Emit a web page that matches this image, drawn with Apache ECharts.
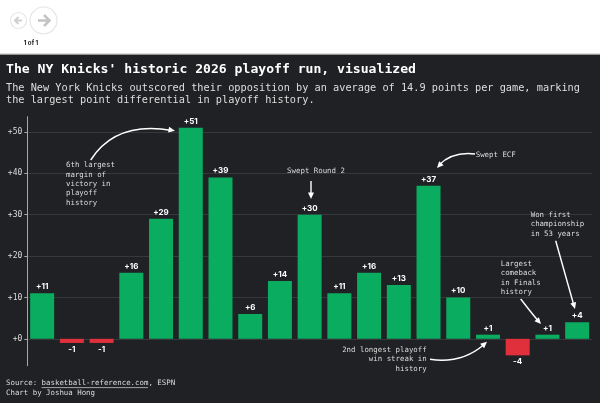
<!DOCTYPE html>
<html><head><meta charset="utf-8">
<style>html,body{margin:0;padding:0;background:#fff}#c{width:600px;height:403px}</style>
<script src="https://cdn.jsdelivr.net/npm/echarts@6/dist/echarts.min.js"></script>
</head><body><div id="c"></div>
<script>
const games = ['G1','G2','G3','G4','G5','G6','G7','G8','G9','G10','G11','G12','G13','G14','G15','G16','G17','G18','G19'];
const margins = [11,-1,-1,16,29,51,39,6,14,30,11,16,13,37,10,1,-4,1,4];
const tickValues = [0,10,20,30,40,50];
const titleText = "The NY Knicks' historic 2026 playoff run, visualized";
const subtitleText = "The New York Knicks outscored their opposition by an average of 14.9 points per game, marking\nthe largest point differential in playoff history.";
const notes = [
  {t:'6th largest\nmargin of\nvictory in\nplayoff\nhistory',x:66,y:160.6,a:'left'},
  {t:'Swept Round 2',x:316,y:166.5,a:'center'},
  {t:'Swept ECF',x:475.7,y:150.5,a:'left'},
  {t:'Won first\nchampionship\nin 53 years',x:530.7,y:210.5,a:'left'},
  {t:'Largest\ncomeback\nin Finals\nhistory',x:500.7,y:259.5,a:'left'},
  {t:'2nd longest playoff\nwin streak in\nhistory',x:426.7,y:345.5,a:'right'}
];
const arrows = [
  {p:[[90.7,160],[108,133],[135,124],[172,130.5]],tip:[175,130.7]},
  {p:[[311,181],[311,186],[311,192],[311,195]],tip:[311,199]},
  {p:[[475,154],[458,152],[447,157],[439,165]],tip:[437,168]},
  {p:[[555.7,240.7],[562,263],[568,285],[573.5,304]],tip:[575,309]},
  {p:[[520.7,299],[527,307],[533,315],[538,320.5]],tip:[541,324]},
  {p:[[430,359.3],[455,363],[472,355],[484,344.5]],tip:[487,341.7]}
];
const FONT = '"DejaVu Sans Mono","Liberation Mono",monospace';
const g = [];
g.push({type:'rect',shape:{x:0,y:54,width:600,height:349},style:{fill:'#202124'},z:-10,silent:true});
g.push({type:'rect',shape:{x:0,y:53.5,width:600,height:1.2},style:{fill:'#bbbbbb'},z:-9,silent:true});
// nav buttons
g.push({type:'circle',shape:{cx:18.5,cy:20.5,r:8},style:{fill:'#fff',stroke:'#e6e6e6',lineWidth:1.2}});
g.push({type:'circle',shape:{cx:43.5,cy:20.5,r:13.5},style:{fill:'#fff',stroke:'#e6e6e6',lineWidth:1.2}});
g.push({type:'polyline',shape:{points:[[22,20.5],[15,20.5]]},style:{stroke:'#cfcfcf',lineWidth:2,fill:null}});
g.push({type:'polyline',shape:{points:[[18.5,17],[15,20.5],[18.5,24]]},style:{stroke:'#cfcfcf',lineWidth:2,fill:null}});
g.push({type:'polyline',shape:{points:[[38,20.5],[49,20.5]]},style:{stroke:'#c4c4c4',lineWidth:2.6,fill:null}});
g.push({type:'polyline',shape:{points:[[44,15],[49.5,20.5],[44,26]]},style:{stroke:'#c4c4c4',lineWidth:2.6,fill:null}});
g.push({type:'text',x:31,y:43.5,style:{text:'1 of 1',fill:'#222',font:'bold 6.2px Inter,sans-serif',align:'center',verticalAlign:'middle'}});
// annotations
notes.forEach(n=>g.push({type:'text',x:n.x,y:n.y,z:20,style:{text:n.t,fill:'#dcdcdc',font:'7.4px '+FONT,lineHeight:9.35,align:n.a,verticalAlign:'top'}}));
arrows.forEach(r=>{
  const [a,b,c,d]=r.p;
  g.push({type:'bezierCurve',z:21,shape:{x1:a[0],y1:a[1],cpx1:b[0],cpy1:b[1],cpx2:c[0],cpy2:c[1],x2:d[0],y2:d[1]},style:{stroke:'#fff',lineWidth:1.4,fill:null}});
  const ang=Math.atan2(r.tip[1]-c[1],r.tip[0]-c[0]),L=6.5,W=3,cs=Math.cos(ang),sn=Math.sin(ang);
  const bx=r.tip[0]-L*cs,by=r.tip[1]-L*sn;
  g.push({type:'polygon',z:21,shape:{points:[r.tip,[bx-W*sn,by+W*cs],[bx+W*sn,by-W*cs]]},style:{fill:'#fff'}});
});
// footer
g.push({type:'text',x:6,y:378.6,style:{text:'Source: basketball-reference.com, ESPN\nChart by Joshua Hong',fill:'#dcdcdc',font:'7.4px '+FONT,lineHeight:9.6,align:'left',verticalAlign:'top'}});
g.push({type:'line',shape:{x1:41.6,y1:387.6,x2:148,y2:387.6},style:{stroke:'#dcdcdc',lineWidth:0.7}});

const chart = echarts.init(document.getElementById('c'),null,{renderer:'canvas'});
chart.setOption({
  animation:false,
  backgroundColor:'#fff',
  title:[
    {text:titleText,left:6,top:62.5,padding:0,textStyle:{color:'#fff',fontFamily:FONT,fontWeight:'bold',fontSize:13.1,lineHeight:15}},
    {text:subtitleText,left:6,top:81.8,padding:0,textStyle:{color:'#dedede',fontFamily:FONT,fontWeight:'normal',fontSize:10.25,lineHeight:12.3}}
  ],
  grid:{left:27.3,right:8,top:116.7,bottom:37.3,containLabel:false},
  xAxis:{type:'category',data:games,axisLine:{show:false},axisTick:{show:false},axisLabel:{show:false},splitLine:{show:false}},
  yAxis:{type:'value',min:-6.5,max:53.7,
    axisLine:{show:true,onZero:false,lineStyle:{color:'#a8a8a8',width:1}},
    axisTick:{show:true,length:3,lineStyle:{color:'#a8a8a8',width:1},customValues:tickValues},
    axisLabel:{color:'#dcdcdc',fontFamily:FONT,fontSize:8,margin:5,customValues:tickValues,formatter:v=>'+'+v},
    splitLine:{show:true,lineStyle:{color:'#37383b',width:1}}
  },
  series:[{type:'bar',barWidth:24,
    data:margins.map(v=>({value:v,itemStyle:{color:v<0?'#e0303c':'#0aad60'},label:{position:v<0?'bottom':'top'}})),
    label:{show:true,color:'#fff',fontFamily:'Inter,Roboto,sans-serif',fontWeight:'bold',fontSize:8,distance:2.5,
      formatter:p=>(p.value>0?'+':'')+p.value}
  }],
  graphic:g
});
</script></body></html>
